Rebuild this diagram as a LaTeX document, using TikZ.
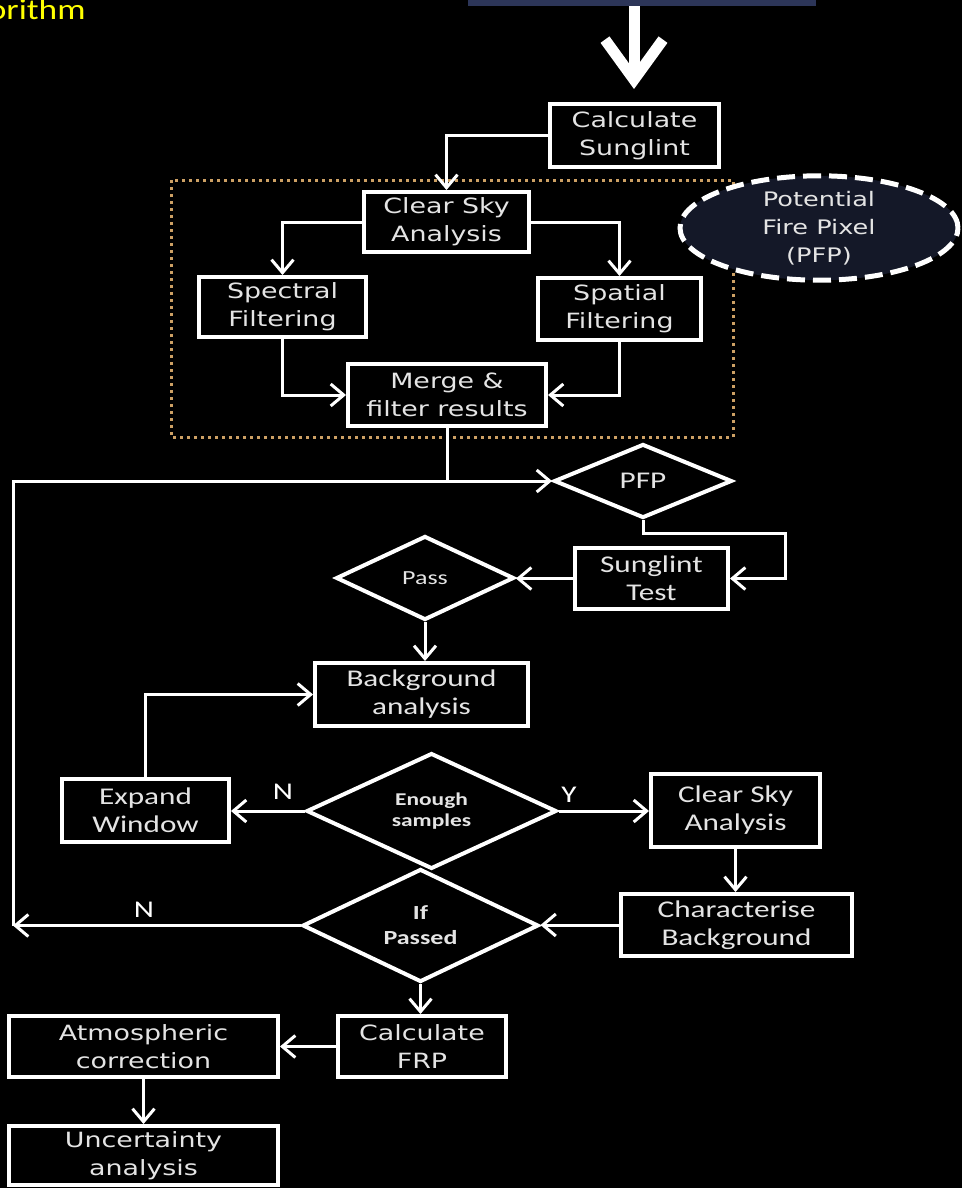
\documentclass[tikz,border=0pt]{standalone}
\usepackage{fontspec}
\usetikzlibrary{arrows.meta,shapes.geometric}
\newfontfamily\vfont[FakeStretch=1.28]{DejaVu Sans}
\newfontfamily\cfont[FakeStretch=1.3]{Carlito}
\newfontfamily\tfont[FakeStretch=1.22]{Carlito}
\definecolor{txtc}{RGB}{228,228,228}
\definecolor{barblue}{RGB}{44,53,88}
\definecolor{ellfill}{RGB}{20,24,40}
\definecolor{dotc}{RGB}{205,160,100}
\definecolor{ylw}{RGB}{255,255,0}
\begin{document}
\begin{tikzpicture}[x=0.5pt,y=-0.5pt,
  every node/.style={inner sep=0pt, text=txtc},
  vbox/.style={draw=white, line width=2pt, fill=black, rectangle, align=center, font=\vfont\fontsize{10.5}{14}\selectfont},
  cbox/.style={draw=white, line width=2pt, fill=black, rectangle, align=center, font=\cfont\fontsize{12}{14}\selectfont},
  dia/.style={draw=white, line width=2pt, fill=black, diamond, align=center},
  conn/.style={draw=white, line width=1.5pt},
  arr/.style={conn, -{Straight Barb[length=6.5pt,width=11pt]}},
  lbl/.style={font=\cfont\fontsize{12}{14}\selectfont, text=white},
]
\useasboundingbox (0,0) rectangle (962,1188);
\fill[black] (0,0) rectangle (962,1188);

% title fragment
\node[anchor=base east, text=ylw, font=\tfont\fontsize{14.5}{17}\selectfont] (title) at (86,19.5) {orithm};

% top bar and big arrow
\node[fill=barblue, minimum width=174pt, minimum height=8pt] (bar) at (642,-2) {};
\coordinate (bigT) at (634,89);
\draw[white, line width=5.5pt, -{Straight Barb[length=20pt,width=29pt]}] (bar.south -| bigT) -- (bigT);

% dotted frame
\draw[dotc, line width=1.5pt, dash pattern=on 1.5pt off 2pt] (171,180) rectangle (733,437);

% nodes
\node[vbox, minimum width=84.5pt, minimum height=31.5pt] (calcS) at (634.5,135.5) {Calculate\\Sunglint};
\node[vbox, minimum width=82.5pt, minimum height=30pt] (clear1) at (446.5,222) {Clear Sky\\Analysis};
\node[vbox, minimum width=83.5pt, minimum height=30pt] (spectral) at (282.5,307) {Spectral\\Filtering};
\node[vbox, minimum width=81.5pt, minimum height=31pt] (spatial) at (619.5,309) {Spatial\\Filtering};
\node[vbox, minimum width=99pt, minimum height=31pt] (merge) at (447,395) {Merge \&\\filter results};

\node[ellipse, draw=white, fill=ellfill, line width=2.5pt, dash pattern=on 9pt off 4pt,
      minimum width=139pt, minimum height=46pt, align=center,
      font=\vfont\fontsize{10}{14}\selectfont] (pfpe) at (819,228) {Potential\\Fire Pixel\\(PFP)};

\node[dia, minimum width=89pt, minimum height=37pt, font=\cfont\fontsize{12}{14}\selectfont] (pfp) at (643,481) {PFP};
\node[cbox, minimum width=76.5pt, minimum height=30.5pt] (sung) at (651.5,578.5) {Sunglint\\Test};
\node[dia, minimum width=89pt, minimum height=42pt, font=\cfont\fontsize{10}{12}\selectfont] (pass) at (425,578) {Pass};
\node[cbox, minimum width=106.5pt, minimum height=31.5pt] (bga) at (421.5,694.5) {Background\\analysis};
\node[cbox, minimum width=83.5pt, minimum height=31.5pt] (expand) at (145.5,810.5) {Expand\\Window};
\node[dia, minimum width=125pt, minimum height=45pt, font=\cfont\bfseries\fontsize{9}{10.5}\selectfont] (enough) at (431.5,811) {Enough\\samples};
\node[cbox, minimum width=84.5pt, minimum height=36.5pt] (clear2) at (735.5,810.5) {Clear Sky\\Analysis};
\node[cbox, minimum width=115.5pt, minimum height=31pt] (charb) at (736.5,925) {Characterise\\Background};
\node[dia, minimum width=118pt, minimum height=44.5pt, font=\cfont\bfseries\fontsize{10}{12.5}\selectfont] (ifp) at (420.5,925.5) {If\\Passed};
\node[vbox, minimum width=84pt, minimum height=30.5pt] (frp) at (422,1046.5) {Calculate\\FRP};
\node[vbox, minimum width=134.5pt, minimum height=30.5pt] (atm) at (143.5,1046.5) {Atmospheric\\correction};
\node[vbox, minimum width=134.5pt, minimum height=29.5pt] (unc) at (143.5,1155.5) {Uncertainty\\analysis};

% labels
\node[lbl] (lN1) at (283,792) {N};
\node[lbl] (lY) at (569,795) {Y};
\node[lbl] (lN2) at (144,910) {N};

% helper coordinates
\coordinate (cT) at (13,481);
\coordinate (cB) at (13,925.5);
\coordinate (rt) at (785,533);

% connectors
\draw[arr] (calcS.west) -| (clear1.north);
\draw[arr] (clear1.west) -| (spectral.north);
\draw[arr] (clear1.east) -| (spatial.north);
\draw[arr] (spectral.south) |- (merge.west);
\draw[arr] (spatial.south) |- (merge.east);
\draw[arr] (merge.south) |- (pfp.west);
\draw[conn] (cB) -- (cT) -- (merge.south |- pfp.west);
\draw[arr] (pfp.south) |- (rt) |- (sung.east);
\draw[arr] (sung.west) -- (sung.west -| pass.east);
\draw[arr] (pass.south) -- (pass.south |- bga.north);
\draw[arr] (expand.north) |- (bga.west);
\draw[arr] (enough.west) -- (enough.west -| expand.east);
\draw[arr] (enough.east) -- (enough.east -| clear2.west);
\draw[arr] (clear2.south) -- (clear2.south |- charb.north);
\draw[arr] (charb.west) -- (charb.west -| ifp.east);
\draw[arr] (ifp.west) -- (cB);
\draw[arr] (ifp.south) -- (ifp.south |- frp.north);
\draw[arr] (frp.west) -- (atm.east);
\draw[arr] (atm.south) -- (unc.north);
\end{tikzpicture}
\end{document}
